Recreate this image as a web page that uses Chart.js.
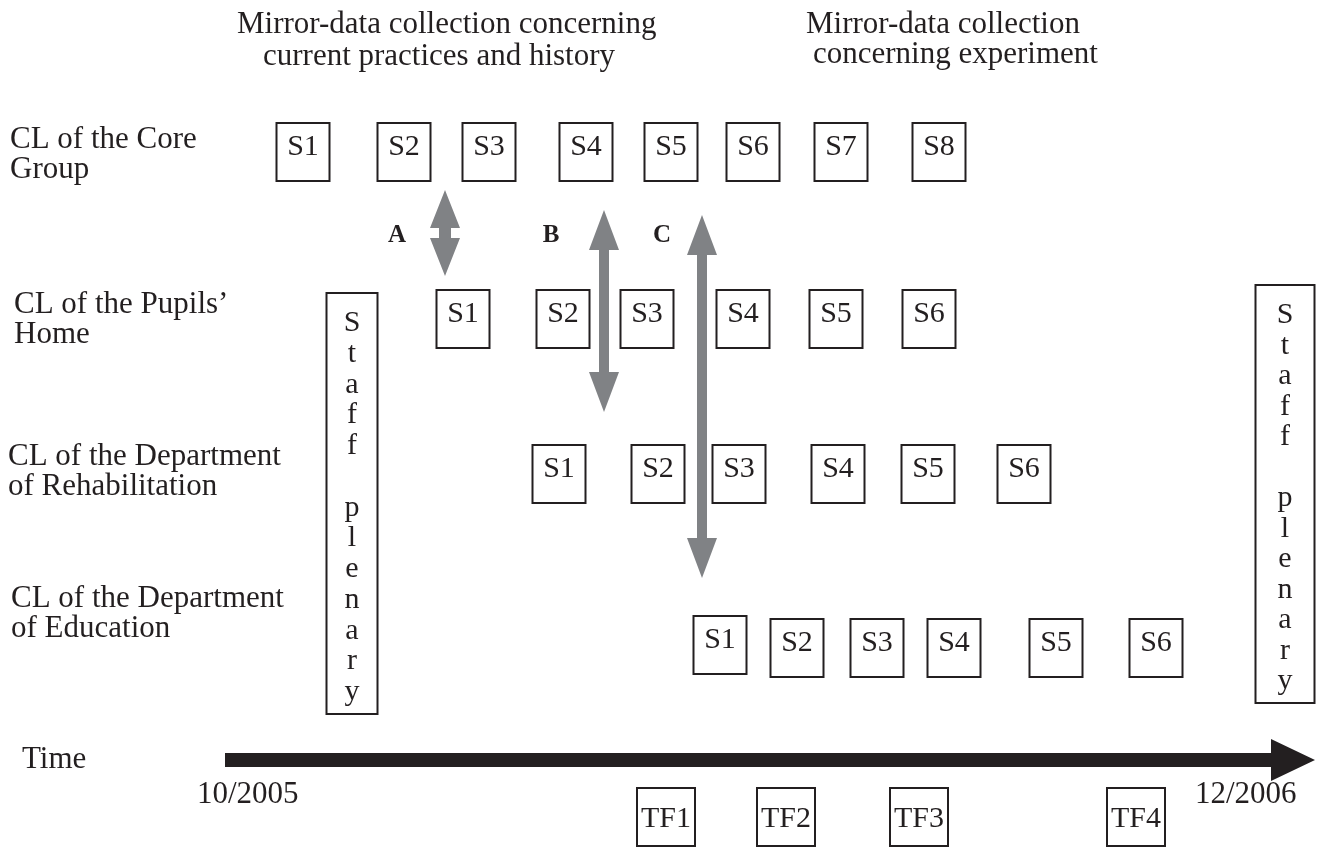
<!DOCTYPE html>
<html>
<head>
<meta charset="utf-8">
<script src="https://cdn.jsdelivr.net/npm/chart.js@4.4.0/dist/chart.umd.min.js"></script>
<style>
  html, body { margin: 0; padding: 0; background: #fff; }
  #wrap { width: 1325px; height: 849px; }
</style>
</head>
<body>
<div id="wrap"><canvas id="diagram" width="1325" height="849"></canvas></div>
<script>
// lanes (change laboratories) and the sessions held in each
const laneNames = [
  ["CL of the Core", "Group"],
  ["CL of the Pupils\u2019", "Home"],
  ["CL of the Department", "of Rehabilitation"],
  ["CL of the Department", "of Education"]
];
const laneNameX = [10, 14, 8, 11];
const laneNameY = [148, 313, 465, 607];
const laneY = [152, 319, 474, 648];

const coreSessions = [303, 404, 489, 586, 671, 753, 841, 939];
const homeSessions = [463, 563, 647, 743, 836, 929];
const rehabSessions = [559, 658, 739, 838, 928, 1024];
const eduSessions = [720, 797, 877, 954, 1056, 1156];
const eduOffsets = [-3, 0, 0, 0, 0, 0];

const tfLabels = ["TF1", "TF2", "TF3", "TF4"];
const tfSessions = [666, 786, 919, 1136];
const tfY = 817;

// staff plenaries at start and end
const staffX = [352, 1285];
const staffTop = [293, 285];
const staffBottom = [714, 703];
const staffWidth = [51, 59];

// links between laboratories
const linkLabels = ["A", "B", "C"];
const linkX = [445, 604, 702];
const linkTop = [190, 210, 215];
const linkBottom = [276, 412, 578];
const linkLabelX = [397, 551, 662];

const timeStart = 225, timeEnd = 1315, timeY = 760;
const timeTicks = ["10/2005", "12/2006"];

const INK = "#231f20";
const GREY = "#808285";
const SERIF = "'Liberation Serif', 'Times New Roman', serif";

function sessionData(xs, y, offs) {
  return xs.map((x, i) => ({ x: x, y: y + (offs ? offs[i] : 0), label: "S" + (i + 1) }));
}

const datasets = [
  { kind: "session", data: sessionData(coreSessions, laneY[0]) },
  { kind: "session", data: sessionData(homeSessions, laneY[1]) },
  { kind: "session", data: sessionData(rehabSessions, laneY[2]) },
  { kind: "session", data: sessionData(eduSessions, laneY[3], eduOffsets) },
  { kind: "tf", data: tfSessions.map((x, i) => ({ x: x, y: tfY, label: tfLabels[i] })) },
  { kind: "staff", data: staffX.map((x, i) => ({ x: x, y: staffTop[i], y2: staffBottom[i], w: staffWidth[i] })) },
  { kind: "link", data: linkX.map((x, i) => ({ x: x, y: linkTop[i], y2: linkBottom[i], label: linkLabels[i], lx: linkLabelX[i] })) },
  { kind: "time", data: [{ x: timeStart, y: timeY }, { x: timeEnd, y: timeY }] }
].map(d => Object.assign({ pointRadius: 0, showLine: false }, d));

function box(ctx, cx, cy, w, h) {
  ctx.strokeStyle = INK;
  ctx.lineWidth = 2;
  ctx.strokeRect(cx - w / 2, cy - h / 2, w, h);
}

function vArrow(ctx, x, y1, y2, head, halfHead, halfShaft) {
  ctx.fillStyle = GREY;
  ctx.beginPath();
  ctx.moveTo(x, y1);
  ctx.lineTo(x + halfHead, y1 + head);
  ctx.lineTo(x + halfShaft, y1 + head);
  ctx.lineTo(x + halfShaft, y2 - head);
  ctx.lineTo(x + halfHead, y2 - head);
  ctx.lineTo(x, y2);
  ctx.lineTo(x - halfHead, y2 - head);
  ctx.lineTo(x - halfShaft, y2 - head);
  ctx.lineTo(x - halfShaft, y1 + head);
  ctx.lineTo(x - halfHead, y1 + head);
  ctx.closePath();
  ctx.fill();
}

const diagramPlugin = {
  id: "diagram",
  afterDatasetsDraw(chart) {
    const ctx = chart.ctx;
    const xs = chart.scales.x, ys = chart.scales.y;
    ctx.save();
    ctx.fillStyle = INK;
    ctx.textBaseline = "alphabetic";

    // headers
    ctx.font = "31px " + SERIF;
    ctx.textAlign = "left";
    ctx.fillText("Mirror-data collection concerning", 237, 33);
    ctx.fillText("current practices and history", 263, 65);
    ctx.fillText("Mirror-data collection", 806, 33);
    ctx.fillText("concerning experiment", 813, 63);

    // lane names
    laneNames.forEach((lines, i) => {
      lines.forEach((t, j) => ctx.fillText(t, laneNameX[i], laneNameY[i] + j * 30));
    });

    chart.data.datasets.forEach((ds, di) => {
      const meta = chart.getDatasetMeta(di);
      meta.data.forEach((pt, i) => {
        const d = ds.data[i];
        const px = pt.x, py = pt.y;
        if (ds.kind === "session" || ds.kind === "tf") {
          box(ctx, px, py, ds.kind === "tf" ? 58 : 53, 58);
          ctx.fillStyle = INK;
          ctx.font = "30px " + SERIF;
          ctx.textAlign = "center";
          ctx.fillText(d.label, px, py + (ds.kind === "tf" ? 10 : 3));
        } else if (ds.kind === "staff") {
          const y2 = ys.getPixelForValue(d.y2);
          ctx.strokeStyle = INK;
          ctx.lineWidth = 2;
          ctx.strokeRect(px - d.w / 2, py, d.w, y2 - py);
          const letters = "Staff plenary".split("");
          const step = (y2 - py - 52) / (letters.length - 1);
          ctx.fillStyle = INK;
          ctx.font = "30px " + SERIF;
          ctx.textAlign = "center";
          letters.forEach((c, k) => ctx.fillText(c, px, py + 38 + k * step));
        } else if (ds.kind === "link") {
          const y2 = ys.getPixelForValue(d.y2);
          if (i === 0) vArrow(ctx, px, py, y2, 38, 15, 6);
          else vArrow(ctx, px, py, y2, 40, 15, 5);
          ctx.fillStyle = INK;
          ctx.font = "bold 25px " + SERIF;
          ctx.textAlign = "center";
          ctx.fillText(d.label, xs.getPixelForValue(d.lx), ys.getPixelForValue(242));
        }
      });
    });

    // time axis
    const meta = chart.getDatasetMeta(chart.data.datasets.length - 1);
    const a = meta.data[0], b = meta.data[1];
    ctx.fillStyle = INK;
    ctx.beginPath();
    ctx.moveTo(a.x, a.y - 7);
    ctx.lineTo(b.x - 44, a.y - 7);
    ctx.lineTo(b.x - 44, a.y - 21);
    ctx.lineTo(b.x, a.y);
    ctx.lineTo(b.x - 44, a.y + 21);
    ctx.lineTo(b.x - 44, a.y + 7);
    ctx.lineTo(a.x, a.y + 7);
    ctx.closePath();
    ctx.fill();
    ctx.font = "31px " + SERIF;
    ctx.textAlign = "left";
    ctx.fillText("Time", 22, 768);
    ctx.fillText(timeTicks[0], 197, 803);
    ctx.fillText(timeTicks[1], 1195, 803);
    ctx.restore();
  }
};

new Chart(document.getElementById("diagram"), {
  type: "scatter",
  data: { datasets: datasets },
  options: {
    responsive: false,
    animation: false,
    devicePixelRatio: 1,
    layout: { padding: 0 },
    scales: {
      x: { type: "linear", min: 0, max: 1325, display: false },
      y: { type: "linear", min: 0, max: 849, reverse: true, display: false }
    },
    plugins: { legend: { display: false }, tooltip: { enabled: false } }
  },
  plugins: [diagramPlugin]
});
</script>
</body>
</html>
